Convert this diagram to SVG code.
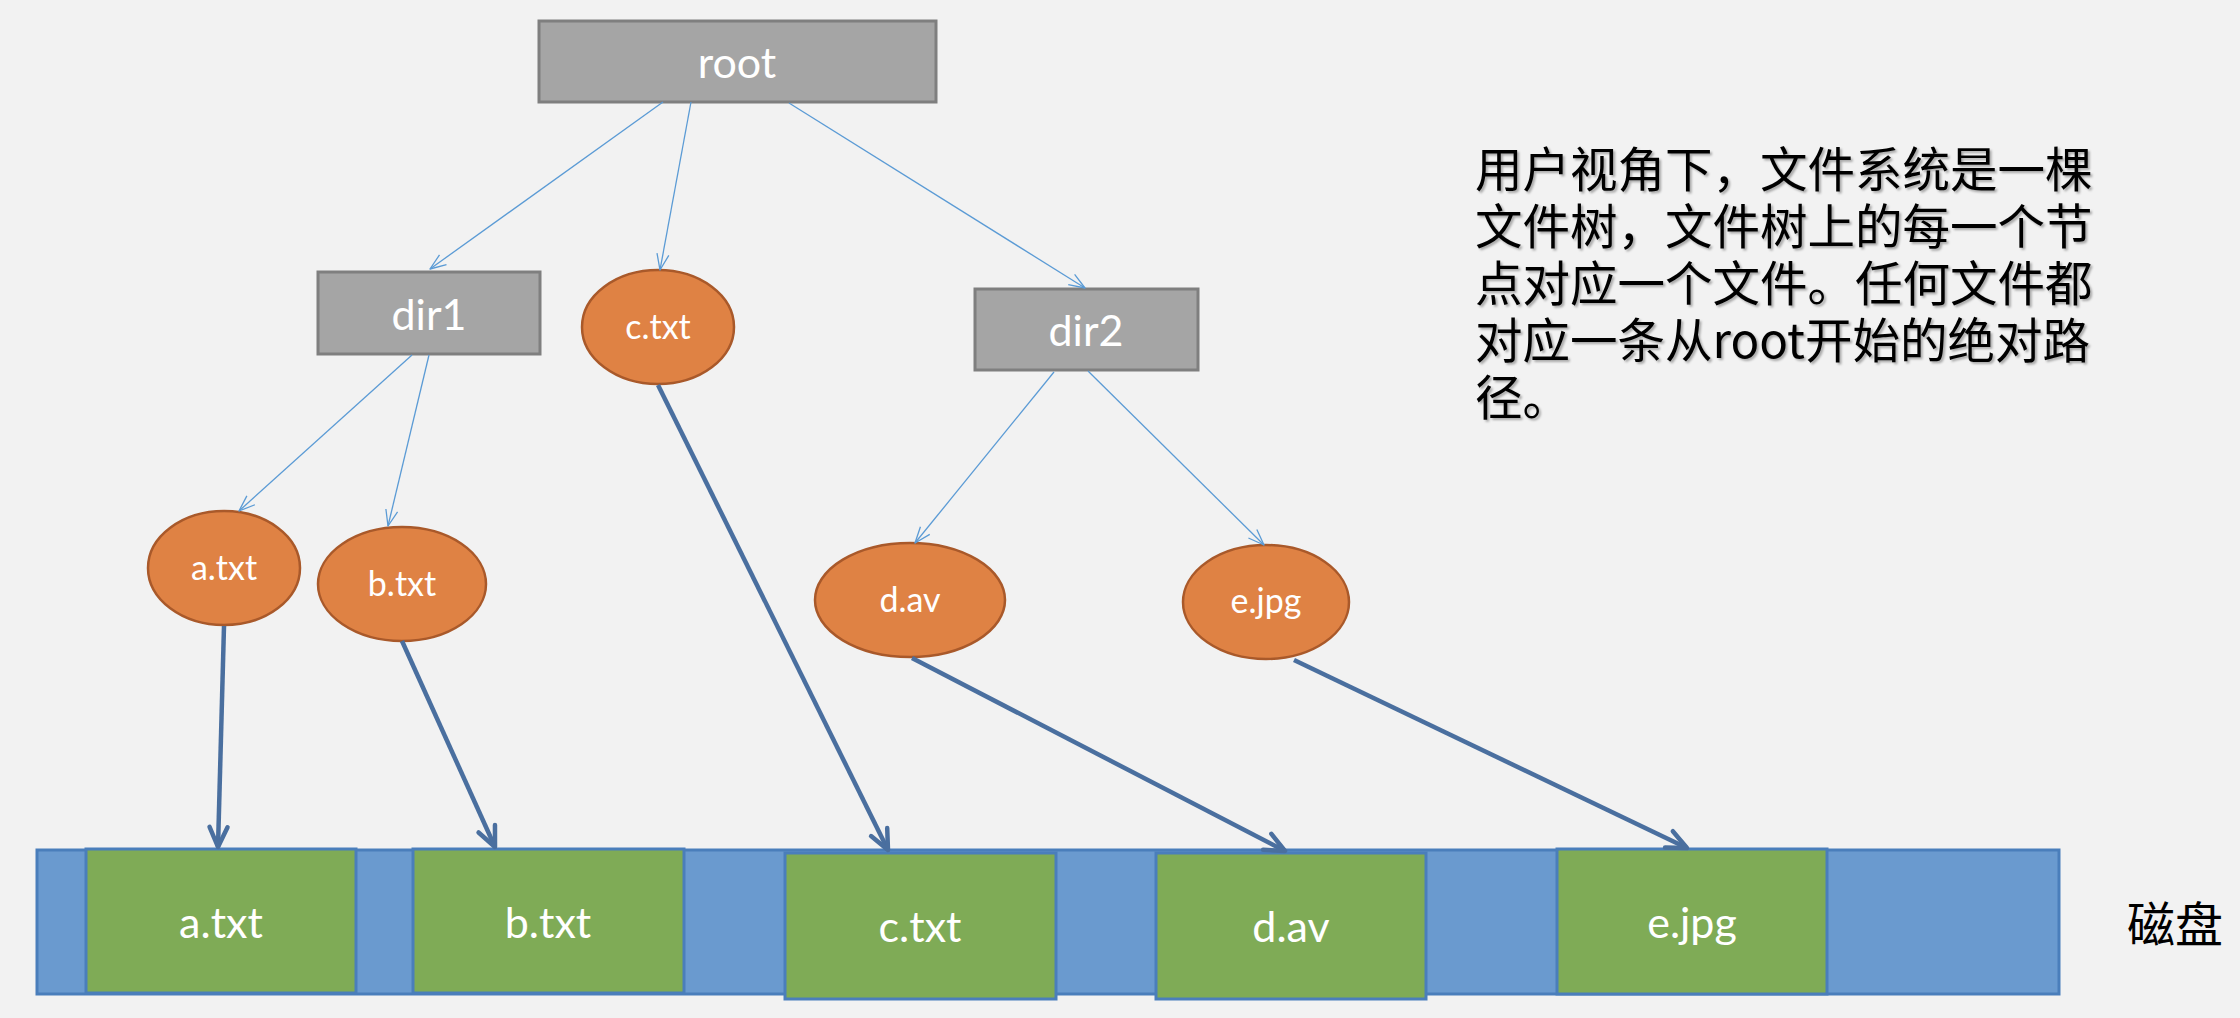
<svg xmlns="http://www.w3.org/2000/svg" width="2240" height="1018" viewBox="0 0 2240 1018">
<defs>
<style>
.dir{fill:#A5A5A5;stroke:#7F7F7F;stroke-width:3}
.file{fill:#DF8244;stroke:#A9592A;stroke-width:2.5}
.disk{fill:#6A9ACF;stroke:#4A7EBB;stroke-width:3}
.blk{fill:#7FAB56;stroke:#4A7EBB;stroke-width:3}
.lbl{font-family:Lato,"Noto Sans",sans-serif;fill:#FFFFFF;text-anchor:middle}
.big{font-size:43px}
.sm{font-size:34px}
.thin{fill:none;stroke:#5B9BD5;stroke-width:1.3;marker-end:url(#mThin)}
.thick{fill:none;stroke:#4A6F9F;stroke-width:4.5;marker-end:url(#mThick)}
.cn{font-family:"Noto Sans CJK SC","Noto Sans",sans-serif;font-size:47.5px;fill:#000000;filter:url(#sh)}
</style>
<marker id="mThin" markerUnits="userSpaceOnUse" viewBox="0 0 20 16" markerWidth="20" markerHeight="16" refX="18" refY="8" orient="auto">
<path d="M2,2 L18,8 L2,14" fill="none" stroke="#5B9BD5" stroke-width="1.3" stroke-linejoin="round"/>
</marker>
<marker id="mThick" markerUnits="userSpaceOnUse" viewBox="0 0 28 24" markerWidth="28" markerHeight="24" refX="24" refY="12" orient="auto">
<path d="M4,3 L24,12 L4,21" fill="none" stroke="#4A6F9F" stroke-width="4.5" stroke-linejoin="round" stroke-linecap="round"/>
</marker>
<filter id="sh" x="-5%" y="-5%" width="110%" height="120%">
<feDropShadow dx="2" dy="2" stdDeviation="1.2" flood-color="#000000" flood-opacity="0.3"/>
</filter>
</defs>
<rect x="0" y="0" width="2240" height="1018" fill="#F2F2F2"/>

<g id="disk">
<rect class="disk" x="37" y="850" width="2022" height="144"/>
<text class="cn" x="2127" y="942" style="font-size:48px;filter:none">磁盘</text>
</g>

<g id="blk-a"><rect class="blk" x="86" y="849" width="270" height="144"/><text class="lbl big" x="221" y="938">a.txt</text></g>
<g id="blk-b"><rect class="blk" x="413" y="849" width="271" height="144"/><text class="lbl big" x="548" y="938">b.txt</text></g>
<g id="blk-c"><rect class="blk" x="785" y="853" width="271" height="146"/><text class="lbl big" x="920" y="942">c.txt</text></g>
<g id="blk-d"><rect class="blk" x="1156" y="853" width="270" height="146"/><text class="lbl big" x="1291" y="942">d.av</text></g>
<g id="blk-e"><rect class="blk" x="1557" y="849" width="270" height="145"/><text class="lbl big" x="1692" y="938">e.jpg</text></g>

<g id="root"><rect class="dir" x="539" y="21" width="397" height="81"/><text class="lbl big" x="737" y="78">root</text></g>
<g id="dir1"><rect class="dir" x="318" y="272" width="222" height="82"/><text class="lbl big" x="429" y="330">dir1</text></g>
<g id="dir2"><rect class="dir" x="975" y="289" width="223" height="81"/><text class="lbl big" x="1086" y="346">dir2</text></g>

<g id="file-c"><ellipse class="file" cx="658" cy="327" rx="76" ry="57"/><text class="lbl sm" x="658" y="339">c.txt</text></g>
<g id="file-a"><ellipse class="file" cx="224" cy="568" rx="76" ry="57"/><text class="lbl sm" x="224" y="580">a.txt</text></g>
<g id="file-b"><ellipse class="file" cx="402" cy="584" rx="84" ry="57"/><text class="lbl sm" x="402" y="596">b.txt</text></g>
<g id="file-d"><ellipse class="file" cx="910" cy="600" rx="95" ry="57"/><text class="lbl sm" x="910" y="612">d.av</text></g>
<g id="file-e"><ellipse class="file" cx="1266" cy="602" rx="83" ry="57"/><text class="lbl sm" x="1266" y="613">e.jpg</text></g>

<g id="connectors">
<line class="thin" x1="663" y1="102" x2="430" y2="269"/>
<line class="thin" x1="691" y1="102" x2="660" y2="270"/>
<line class="thin" x1="789" y1="103" x2="1085" y2="288"/>
<line class="thin" x1="412" y1="355" x2="239" y2="511"/>
<line class="thin" x1="429" y1="355" x2="388" y2="526"/>
<line class="thin" x1="1054" y1="372" x2="915" y2="543"/>
<line class="thin" x1="1088" y1="371" x2="1264" y2="545"/>
<line class="thick" x1="224" y1="626" x2="218" y2="847"/>
<line class="thick" x1="402" y1="641" x2="495" y2="847"/>
<line class="thick" x1="658" y1="385" x2="888" y2="850"/>
<line class="thick" x1="912" y1="658" x2="1285" y2="851"/>
<line class="thick" x1="1294" y1="660" x2="1687" y2="848"/>
</g>

<g id="note">
<text class="cn" x="1475" y="187">用户视角下，文件系统是一棵</text>
<text class="cn" x="1475" y="244">文件树，文件树上的每一个节</text>
<text class="cn" x="1475" y="301">点对应一个文件。任何文件都</text>
<text class="cn" x="1475" y="358">对应一条从root开始的绝对路</text>
<text class="cn" x="1475" y="415">径。</text>
</g>
</svg>
